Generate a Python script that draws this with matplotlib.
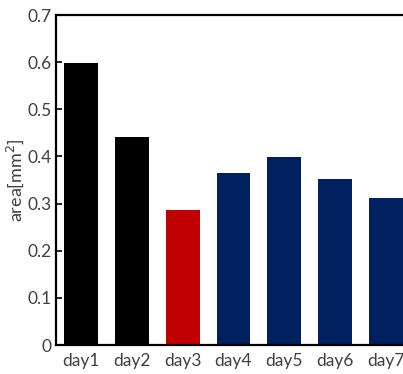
import matplotlib
matplotlib.use("Agg")
import matplotlib.pyplot as plt

days = ["day1", "day2", "day3", "day4", "day5", "day6", "day7"]
area = [0.599, 0.442, 0.287, 0.365, 0.399, 0.352, 0.312]
colors = ["#000000", "#000000", "#C00000", "#002060", "#002060", "#002060", "#002060"]
yticks = [0, 0.1, 0.2, 0.3, 0.4, 0.5, 0.6, 0.7]
ytick_labels = ["0", "0.1", "0.2", "0.3", "0.4", "0.5", "0.6", "0.7"]

plt.rcParams['font.family'] = ['Lato', 'DejaVu Sans']
W, H = 403, 374
fig = plt.figure(figsize=(W / 100, H / 100), dpi=100)
left, right, top, bottom = 56, 411, 15, 345
ax = fig.add_axes([left / W, 1 - bottom / H, (right - left) / W, (bottom - top) / H])

x = list(range(1, len(days) + 1))
ax.bar(x, area, width=0.67, color=colors)
ax.set_xlim(0.5, 7.5)
ax.set_ylim(0, 0.7)
ax.set_xticks(x)
ax.set_xticklabels(days)
ax.set_yticks(yticks)
ax.set_yticklabels(ytick_labels)
ax.tick_params(axis='x', length=0, labelsize=12.5, colors='#404040', pad=6)
ax.tick_params(axis='y', direction='in', length=4, width=1.2, labelsize=12.5,
               labelcolor='#404040', pad=3)
for s in ['left', 'top', 'bottom']:
    ax.spines[s].set_linewidth(1.6)
ax.spines['right'].set_visible(False)
ax.set_ylabel("area[mm$^2$]", fontsize=13, color='#404040', labelpad=1)

fig.savefig("out.png", dpi=100)
